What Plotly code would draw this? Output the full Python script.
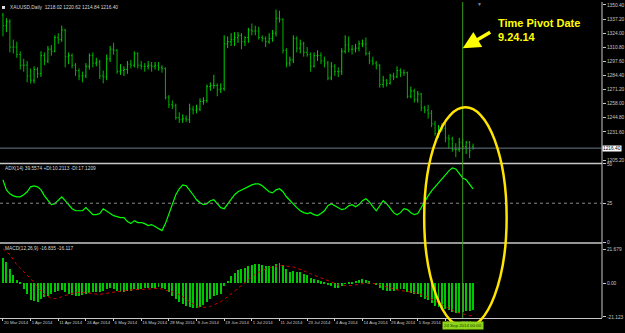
import pandas as pd
import plotly.graph_objects as go

# ---------------- data ----------------
dates = [d.strftime("%Y-%m-%d") for d in pd.bdate_range("2014-03-20", "2014-09-29")
         if d.strftime("%Y-%m-%d") != "2014-04-18"]

open_ = [1341,1331,1335,1311,1311,1304,1294,1294,1284,1280,
         1290,1286,1303,1298,1309,1307,1320,1318,1327,1302,
         1303,1294,1289,1284,1284,1293,1303,1296,1297,1284,
         1283,1300,1309,1308,1288,1289,1290,1295,1294,1305,
         1294,1293,1293,1294,1293,1294,1292,1291,1264,1257,
         1256,1245,1243,1244,1243,1253,1252,1253,1260,1261,
         1274,1275,1275,1271,1272,1314,1316,1318,1320,1322,
         1316,1320,1327,1326,1326,1320,1319,1316,1319,1324,
         1338,1337,1308,1296,1299,1319,1310,1314,1306,1304,
         1293,1303,1303,1298,1296,1282,1293,1288,1288,1307,
         1313,1309,1309,1310,1314,1314,1305,1298,1296,1294,
         1276,1280,1277,1284,1283,1289,1287,1287,1265,1270,
         1262,1267,1254,1252,1249,1239,1230,1236,1235,1226,
         1225,1215,1215,1222,1218,1222,1218.02]
high = [1343,1338,1337,1318,1316,1307,1300,1298,1291,1293,
        1292,1307,1306,1312,1313,1322,1324,1331,1328,1306,
        1305,1296,1291,1288,1296,1305,1306,1301,1299,1289,
        1304,1312,1315,1309,1295,1293,1298,1299,1307,1306,
        1298,1296,1298,1297,1297,1297,1294,1292,1266,1261,
        1258,1250,1248,1247,1258,1256,1257,1263,1264,1276,
        1278,1285,1277,1277,1322,1321,1324,1325,1325,1324,
        1321,1329,1333,1331,1330,1322,1321,1324,1327,1346,
        1345,1338,1310,1302,1322,1321,1318,1316,1311,1306,
        1306,1308,1306,1302,1298,1297,1295,1292,1310,1322,
        1321,1313,1314,1317,1318,1320,1307,1302,1298,1295,
        1284,1281,1286,1287,1293,1291,1290,1288,1274,1272,
        1270,1268,1256,1257,1252,1242,1238,1240,1241,1229,
        1227,1221,1226,1225,1223,1223,1220.62]
low = [1321,1325,1306,1305,1301,1290,1288,1278,1277,1277,
       1282,1283,1294,1296,1303,1306,1314,1316,1292,1295,
       1291,1284,1280,1278,1282,1290,1292,1293,1281,1277,
       1280,1297,1304,1286,1285,1284,1286,1291,1292,1291,
       1290,1288,1290,1288,1290,1289,1287,1262,1254,1253,
       1243,1240,1240,1241,1240,1248,1249,1251,1257,1259,
       1270,1272,1265,1268,1270,1310,1312,1312,1315,1309,
       1312,1315,1322,1322,1318,1316,1311,1314,1316,1321,
       1334,1305,1292,1293,1296,1306,1305,1302,1302,1288,
       1292,1298,1295,1292,1280,1280,1284,1283,1285,1305,
       1306,1304,1306,1307,1311,1303,1295,1294,1290,1273,
       1273,1274,1276,1280,1282,1283,1284,1263,1263,1259,
       1259,1251,1249,1244,1236,1228,1226,1232,1222,1216,
       1213,1208,1213,1215,1211,1207,1214.84]
close = [1331,1335,1311,1311,1304,1294,1294,1284,1280,1290,
         1286,1303,1298,1309,1307,1320,1318,1327,1302,1303,
         1294,1289,1284,1284,1293,1303,1296,1297,1284,1283,
         1300,1309,1308,1288,1289,1290,1295,1294,1305,1294,
         1293,1293,1294,1293,1294,1292,1291,1264,1257,1256,
         1245,1243,1244,1243,1253,1252,1253,1260,1261,1274,
         1275,1275,1271,1272,1314,1316,1318,1320,1322,1316,
         1320,1327,1326,1326,1320,1319,1316,1319,1324,1338,
         1337,1308,1296,1299,1319,1310,1314,1306,1304,1293,
         1303,1303,1298,1296,1282,1293,1288,1288,1307,1313,
         1309,1309,1310,1314,1314,1305,1298,1296,1294,1276,
         1280,1277,1284,1283,1289,1287,1287,1265,1270,1262,
         1267,1254,1252,1249,1239,1230,1236,1235,1226,1225,
         1215,1215,1222,1218,1222,1214,1216.40]

adx = [39.9,33.5,31.0,29.7,29.1,29.1,30.4,32.3,35.4,36.0,
       35.4,33.5,29.7,26.6,24.1,24.7,26.6,29.1,26.6,24.1,
       21.5,20.2,20.2,20.2,22.2,19.6,17.7,17.7,18.4,21.5,
       20.2,18.4,17.1,16.5,15.8,15.8,13.3,12.0,13.9,12.7,
       12.7,12.0,10.8,11.4,10.1,8.9,7.6,12.0,18.4,24.1,
       30.4,34.2,36.7,36.1,33.5,30.4,27.2,25.3,24.1,24.7,
       26.6,27.2,24.7,22.2,21.5,24.7,27.8,30.4,32.3,33.5,
       34.2,35.4,36.7,37.3,37.3,36.1,34.2,32.3,31.6,33.5,
       34.2,32.3,29.1,26.6,24.1,22.2,20.2,19.0,18.4,19.0,
       17.7,17.1,18.4,20.2,23.4,24.7,23.4,22.2,20.9,21.5,
       23.4,24.1,22.8,24.1,26.6,27.8,25.9,22.8,20.2,23.4,
       26.6,24.7,21.5,19.0,17.7,19.0,21.5,20.9,19.0,17.7,
       18.4,22.2,26.6,29.7,32.9,35.4,37.3,40.5,43.0,45.6,
       47.5,46.8,44.3,41.1,39.9,37.3,34.2]

macd = [15.7,13.2,8.8,5.0,2.1,0.6,-3.8,-6.9,-10.5,-11.1,
        -11.7,-10.0,-8.8,-8.0,-6.9,-5.7,-5.2,-4.2,-5.7,-6.9,
        -7.5,-8.0,-8.0,-7.3,-6.9,-6.3,-5.7,-5.4,-5.7,-5.0,
        -3.8,-3.3,-3.8,-4.8,-5.4,-5.4,-5.2,-4.8,-3.8,-4.2,
        -3.8,-3.3,-2.9,-2.9,-2.9,-2.7,-2.9,-3.8,-5.7,-8.0,
        -10.0,-12.1,-13.2,-14.2,-15.3,-15.9,-15.9,-15.0,-14.0,-12.0,
        -10.0,-8.5,-7.8,-7.0,-2.0,1.5,4.2,6.3,8.0,8.8,
        9.6,10.8,11.6,12.0,11.8,11.4,10.8,10.5,10.6,12.0,
        12.8,11.2,8.8,7.2,7.5,7.0,6.8,5.8,4.8,3.2,
        2.6,2.1,1.2,0.4,-1.5,-2.0,-2.9,-3.4,-2.0,-0.5,
        0.3,0.8,1.3,2.0,2.4,2.0,1.0,0.0,-1.0,-3.2,
        -4.3,-5.3,-5.3,-5.2,-4.4,-3.9,-3.5,-5.5,-6.0,-7.0,
        -7.2,-8.6,-9.8,-10.9,-12.5,-14.5,-15.0,-15.4,-16.5,-17.2,
        -18.5,-19.2,-18.8,-18.6,-17.8,-17.6,-16.8]

signal = [22.0,20.0,18.2,15.0,11.9,9.8,7.7,5.7,3.0,0.6,
          -2.2,-5.0,-6.8,-8.2,-9.4,-9.6,-9.4,-8.2,-7.5,-6.9,
          -6.3,-5.7,-5.6,-5.6,-5.7,-6.0,-6.4,-6.7,-6.9,-6.5,
          -6.1,-5.7,-5.5,-5.2,-5.0,-4.6,-4.2,-3.8,-3.8,-3.8,
          -3.8,-3.8,-3.6,-3.4,-3.2,-3.1,-3.5,-4.4,-4.8,-5.2,
          -5.7,-7.0,-8.5,-10.0,-11.5,-13.0,-14.4,-15.0,-15.2,-15.0,
          -14.5,-13.6,-12.6,-11.5,-10.0,-8.4,-6.6,-4.8,-3.0,-1.2,
          0.6,2.4,4.2,5.8,7.2,8.4,9.3,10.0,10.5,11.0,
          11.3,11.4,11.2,10.9,10.4,9.8,9.0,8.2,7.2,6.2,
          5.3,4.4,3.6,2.8,1.8,0.9,0.0,-0.8,-1.2,-1.4,
          -1.4,-1.2,-0.8,-0.4,-0.1,0.2,0.3,0.2,-0.2,-0.8,
          -1.5,-2.2,-3.0,-3.6,-4.0,-4.4,-4.6,-5.0,-5.4,-5.8,
          -6.2,-6.9,-7.7,-8.7,-9.8,-11.0,-12.3,-13.5,-14.7,-15.8,
          -16.9,-17.9,-18.7,-19.3,-19.8,-20.2,-20.5]

price_ticks = [1350.40, 1337.20, 1324.00, 1310.80, 1297.60, 1284.40,
               1271.20, 1258.00, 1244.80, 1231.60, 1205.20]
adx_ticks = [50, 25, 0]
adx_level = 25
macd_ticks = [21.679, 0, -21.123]
macd_tick_text = ["21.679", "0.00", "-21.123"]
pivot_date = "2014-09-24"
last_price = 1216.40

x_ticks = dates[0:129:8]
x_tick_text = [pd.Timestamp(d).strftime("%-d %b %Y") for d in x_ticks]

# ---------------- figure ----------------
W, H = 625, 333
L, R, T, B = 0, 19, 0, 15
ph = H - T - B
FONT = "Liberation Sans"
AX = "#c8c8c8"

def py(pix):  # pixel row -> paper fraction
    return (ph - pix) / ph

fig = go.Figure()
fig.add_trace(go.Ohlc(
    x=dates, open=open_, high=high, low=low, close=close,
    increasing=dict(line=dict(color="#00d000", width=1)),
    decreasing=dict(line=dict(color="#00b400", width=1)),
    tickwidth=0.3, xaxis="x", yaxis="y", hoverinfo="skip", showlegend=False))
fig.add_trace(go.Scatter(
    x=dates, y=adx, mode="lines", line=dict(color="#00ff00", width=1.2),
    xaxis="x", yaxis="y2", hoverinfo="skip", showlegend=False))
fig.add_trace(go.Bar(
    x=dates, y=macd, width=0.28, marker=dict(color="#00c800", line=dict(width=0)),
    xaxis="x", yaxis="y3", hoverinfo="skip", showlegend=False))
fig.add_trace(go.Scatter(
    x=dates, y=signal, mode="lines", line=dict(color="#d00000", width=1, dash="dot"),
    xaxis="x", yaxis="y3", hoverinfo="skip", showlegend=False))

yax_common = dict(side="right", anchor="x", showgrid=False, zeroline=False,
                  showline=False, ticks="outside", ticklen=3, tickcolor=AX,
                  tickfont=dict(family=FONT, size=4.8, color=AX), fixedrange=True)

fig.update_layout(
    width=W, height=H, margin=dict(l=L, r=R, t=T, b=B),
    paper_bgcolor="black", plot_bgcolor="black", showlegend=False,
    bargap=0,
    xaxis=dict(type="category", range=[-0.86, 173.3], anchor="y3",
               rangeslider=dict(visible=False), showgrid=False, zeroline=False,
               showline=True, linecolor=AX, linewidth=1,
               tickvals=x_ticks, ticktext=x_tick_text, tickangle=0,
               ticks="outside", ticklen=2, tickcolor=AX,
               ticklabelposition="outside right",
               tickfont=dict(family=FONT, size=4.3, color=AX)),
    yaxis=dict(domain=[py(162), 1], range=[1202.5, 1353.2],
               tickvals=price_ticks, ticktext=[f"{v:.2f}" for v in price_ticks],
               **yax_common),
    yaxis2=dict(domain=[py(242), py(163)], range=[0, 50],
                tickvals=adx_ticks, ticktext=[str(v) for v in adx_ticks],
                **yax_common),
    yaxis3=dict(domain=[0, py(243)], range=[-21.8, 25.3],
                tickvals=macd_ticks, ticktext=macd_tick_text,
                **yax_common),
)

shapes = [
    dict(type="line", xref="paper", yref="paper", x0=0, x1=1, y0=py(162.5), y1=py(162.5),
         line=dict(color="#c8c8c8", width=1.5)),
    dict(type="line", xref="paper", yref="paper", x0=0, x1=1, y0=py(242.5), y1=py(242.5),
         line=dict(color="#c8c8c8", width=1.5)),
    dict(type="line", xref="paper", yref="paper", x0=1, x1=1, y0=0, y1=1,
         line=dict(color="#c8c8c8", width=1)),
    dict(type="line", xref="paper", yref="y", x0=0, x1=1, y0=last_price, y1=last_price,
         line=dict(color="#6a7a8a", width=1)),
    dict(type="line", xref="paper", yref="y2", x0=0, x1=1, y0=adx_level, y1=adx_level,
         line=dict(color="#8a8a8a", width=1, dash="dot")),
    dict(type="line", xref="x", yref="paper", x0=pivot_date, x1=pivot_date, y0=0, y1=1,
         line=dict(color="#3e9c1f", width=1)),
    dict(type="circle", xref="paper", yref="paper",
         x0=427 / 606, x1=510 / 606, y0=py(328), y1=py(106),
         line=dict(color="#ffe400", width=2.5)),
    dict(type="rect", xref="paper", yref="paper", x0=2 / 606, x1=5 / 606,
         y0=py(7), y1=py(4), fillcolor="#e0e0e0", line=dict(width=0)),
]
fig.update_layout(shapes=shapes)

small = dict(family=FONT, size=4.8, color="#d8d8d8")
ann = [
    dict(xref="paper", yref="paper", x=8 / 606, y=py(5.5), xanchor="left", yanchor="middle",
         text="XAUUSD,Daily  1218.02 1220.62 1214.84 1216.40", showarrow=False, font=small),
    dict(xref="paper", yref="paper", x=3 / 606, y=py(168), xanchor="left", yanchor="middle",
         text="ADX(14) 39.5574 +DI:10.2113 -DI:17.1209", showarrow=False, font=small),
    dict(xref="paper", yref="paper", x=3 / 606, y=py(248), xanchor="left", yanchor="middle",
         text="MACD(12,26,9) -16.835 -16.117", showarrow=False, font=small),
    dict(xref="x", yref="y", x=pivot_date, y=1309.8, ax=29, ay=-17, text="",
         showarrow=True, arrowhead=2, arrowsize=1, arrowwidth=3.5, arrowcolor="#ffff00"),
    dict(xref="paper", yref="paper", x=499 / 606, y=py(28), xanchor="left", yanchor="middle",
         text="<b>Time Pivot Date<br>9.24.14</b>", showarrow=False, align="left",
         font=dict(family=FONT, size=11, color="#ffff00")),
    dict(xref="paper", yref="y", x=1.0, y=last_price, xanchor="left", yanchor="middle",
         text="1216.40", showarrow=False, bgcolor="#ffffff", borderpad=0,
         font=dict(family=FONT, size=4.8, color="#000000")),
    dict(xref="x", yref="paper", x=pivot_date, y=py(326), xanchor="center", yanchor="middle",
         text="24 Sep 2014 00:00", showarrow=False, bgcolor="#8ed41a", borderpad=1,
         font=dict(family=FONT, size=4.4, color="#1c3a00")),
    dict(xref="paper", yref="paper", x=483 / 606, y=py(2), xanchor="center", yanchor="middle",
         text="▼", showarrow=False, font=dict(family=FONT, size=5, color="#8090a0")),
]
fig.update_layout(annotations=ann)

fig.write_html("out.html")
